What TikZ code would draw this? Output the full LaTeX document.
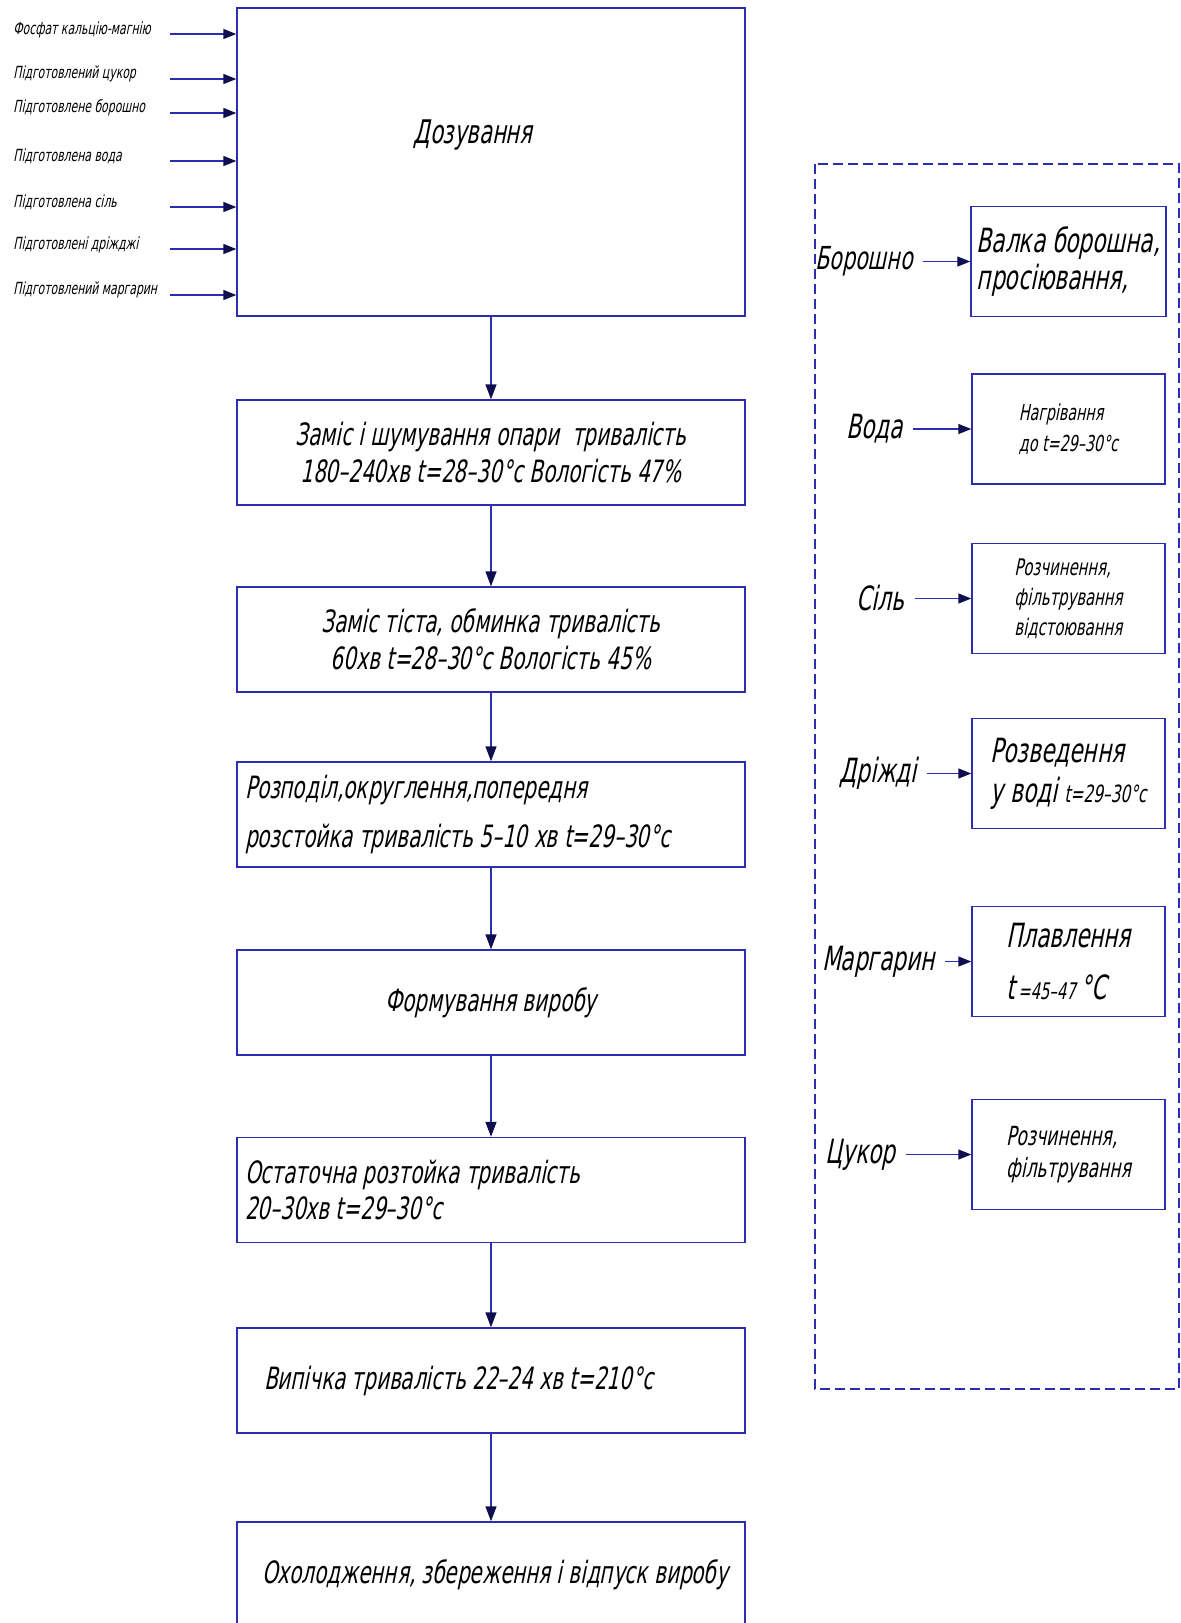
\documentclass[tikz,border=0pt]{standalone}
\usepackage{fontspec}
\newfontfamily\gost{DejaVu Sans}[FakeStretch=0.65,FakeSlant=0.2]
\usetikzlibrary{arrows.meta}
\definecolor{lineblue}{RGB}{45,45,175}
\definecolor{tipnavy}{RGB}{15,15,80}

\begin{document}
\begin{tikzpicture}[
  stage/.style={draw=lineblue,line width=0.8pt,minimum width=10.16cm,minimum height=2.1cm,align=center,font={\gost\fontsize{17.5}{21}\selectfont}},
  stageleft/.style={stage,text width=9.84cm,inner xsep=0.16cm,align=flush left},
  prep/.style={draw=lineblue,line width=0.8pt,minimum width=3.86cm,minimum height=2.2cm,align=flush left},
  rawlabel/.style={anchor=east,inner xsep=0.2cm,inner ysep=0pt,font={\gost\fontsize{19}{21}\selectfont}},
  inlabel/.style={anchor=west,inner sep=0pt,font={\gost\fontsize{9.5}{11}\selectfont}},
  flow/.style={draw=lineblue,line width=0.8pt,-{Triangle[length=0.3cm,width=0.22cm,color=tipnavy]}},
  feed/.style={draw=lineblue,line width=0.8pt,-{Triangle[length=0.26cm,width=0.2cm,color=tipnavy]}}
]
\useasboundingbox (0,0) rectangle (23.62,-32.46);

\node[draw=lineblue,line width=0.8pt,minimum width=10.16cm,minimum height=6.16cm] (dose) at (9.82,-3.24) {};
\node[font={\gost\fontsize{18.5}{21}\selectfont}] (dosetext) at (9.46,-2.7) {Дозування};

\node[inlabel] (inphos) at (0.26,-0.6) {Фосфат кальцію-магнію};
\node[inlabel] (insugar) at (0.26,-1.48) {Підготовлений цукор};
\node[inlabel] (inflour) at (0.26,-2.16) {Підготовлене борошно};
\node[inlabel] (inwater) at (0.26,-3.12) {Підготовлена вода};
\node[inlabel] (insalt) at (0.26,-4.04) {Підготовлена сіль};
\node[inlabel] (inyeast) at (0.26,-4.9) {Підготовлені дріжджі};
\node[inlabel] (inmarg) at (0.26,-5.8) {Підготовлений маргарин};
\coordinate (cphos) at (3.4,-0.68);
\coordinate (csugar) at (3.4,-1.58);
\coordinate (cflour) at (3.4,-2.26);
\coordinate (cwater) at (3.4,-3.22);
\coordinate (csalt) at (3.4,-4.14);
\coordinate (cyeast) at (3.4,-4.98);
\coordinate (cmarg) at (3.4,-5.9);
\draw[feed] (cphos) -- (cphos -| dose.west);
\draw[feed] (csugar) -- (csugar -| dose.west);
\draw[feed] (cflour) -- (cflour -| dose.west);
\draw[feed] (cwater) -- (cwater -| dose.west);
\draw[feed] (csalt) -- (csalt -| dose.west);
\draw[feed] (cyeast) -- (cyeast -| dose.west);
\draw[feed] (cmarg) -- (cmarg -| dose.west);

\node[stage] (knead) at (9.82,-9.05) {Заміс і шумування опари\ \ тривалість\\180–240хв t=28–30°c Вологість 47\%};
\node[stage] (dough) at (9.82,-12.79) {Заміс тіста, обминка тривалість\\60хв t=28–30°c Вологість 45\%};
\node[stageleft,font={\gost\fontsize{17.5}{28}\selectfont}] (divide) at (9.82,-16.29) {Розподіл,округлення,попередня\\розстойка тривалість 5–10 хв t=29–30°c};
\node[stage] (shape) at (9.82,-20.05) {Формування виробу};
\node[stageleft] (proof) at (9.82,-23.8) {Остаточна розтойка тривалість\\20–30хв t=29–30°c};
\node[stageleft] (bake) at (9.82,-27.61) {\hspace*{0.38cm}Випічка тривалість 22–24 хв t=210°c};
\node[stageleft] (cool) at (9.82,-31.49) {\hspace*{0.34cm}Охолодження, збереження і відпуск виробу};

\draw[flow] (dose) -- (knead);
\draw[flow] (knead) -- (dough);
\draw[flow] (dough) -- (divide);
\draw[flow] (divide) -- (shape);
\draw[flow] (shape) -- (proof);
\draw[flow] (proof) -- (bake);
\draw[flow] (bake) -- (cool);

\draw[draw=lineblue,line width=0.8pt,dash pattern=on 0.2cm off 0.1cm] (16.3,-3.28) rectangle (23.58,-27.78);

\node[prep,font={\gost\fontsize{19}{21}\selectfont}] (sift) at (21.37,-5.23) {Валка борошна,\\просіювання,};
\node[prep,font={\gost\fontsize{12.5}{17.5}\selectfont}] (heat) at (21.37,-8.58) {Нагрівання\\до t=29–30°c};
\node[prep,font={\gost\fontsize{13}{17}\selectfont}] (dissolve) at (21.37,-11.97) {Розчинення,\\фільтрування\\відстоювання};
\node[prep,font={\gost\fontsize{19}{23}\selectfont}] (dilute) at (21.37,-15.47) {Розведення\\у воді {\fontsize{13.5}{16}\selectfont t=29–30°c}};
\node[prep,font={\gost\fontsize{19}{30}\selectfont}] (melt) at (21.37,-19.23) {Плавлення\\t\kern2pt{\fontsize{13}{16}\selectfont=45–47}\kern3pt°C};
\node[prep,font={\gost\fontsize{15}{18}\selectfont}] (strain) at (21.37,-23.09) {Розчинення,\\фільтрування};

\node[rawlabel,font={\gost\fontsize{18}{21}\selectfont}] (flour) at (18.46,-5.23) {Борошно};
\node[rawlabel] (water) at (18.26,-8.58) {Вода};
\node[rawlabel] (salt) at (18.3,-11.97) {Сіль};
\node[rawlabel] (yeast) at (18.54,-15.47) {Дріжді};
\node[rawlabel] (marg) at (18.9,-19.23) {Маргарин};
\node[rawlabel] (sugar) at (18.12,-23.09) {Цукор};
\draw[feed] (flour) -- (sift);
\draw[feed] (water) -- (heat);
\draw[feed] (salt) -- (dissolve);
\draw[feed] (yeast) -- (dilute);
\draw[feed] (marg) -- (melt);
\draw[feed] (sugar) -- (strain);

\end{tikzpicture}
\end{document}
